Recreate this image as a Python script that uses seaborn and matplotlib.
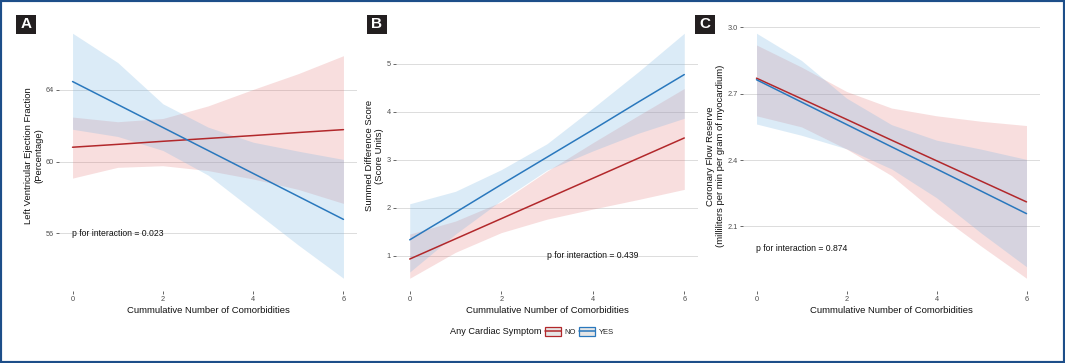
import pandas as pd
import matplotlib
matplotlib.use("Agg")
import matplotlib.pyplot as plt
import matplotlib.patches as mpatches
from matplotlib.lines import Line2D
import seaborn as sns

# ---- data (fitted values and 95% CI at each count) ----
comorb = [0, 1, 2, 3, 4, 5, 6]
groups = ["NO", "YES"]

# A: left ventricular ejection fraction
lvef_no = [60.80, 60.96, 61.13, 61.29, 61.45, 61.62, 61.78]
lvef_no_lo = [59.08, 59.68, 59.77, 59.50, 59.03, 58.45, 57.67]
lvef_no_hi = [62.48, 62.22, 62.40, 63.10, 64.02, 64.90, 65.90]
lvef_yes = [64.46, 63.18, 61.90, 60.62, 59.34, 58.06, 56.78]
lvef_yes_lo = [61.80, 61.40, 60.62, 59.25, 57.30, 55.35, 53.50]
lvef_yes_hi = [67.15, 65.52, 63.22, 61.92, 61.08, 60.58, 60.12]

# B: summed difference score
sds_no = [0.93, 1.35, 1.77, 2.19, 2.61, 3.03, 3.45]
sds_no_lo = [0.53, 1.07, 1.48, 1.76, 1.97, 2.17, 2.38]
sds_no_hi = [1.45, 1.72, 2.12, 2.76, 3.35, 3.92, 4.48]
sds_yes = [1.33, 1.90, 2.48, 3.05, 3.62, 4.20, 4.77]
sds_yes_lo = [0.66, 1.45, 2.15, 2.78, 3.18, 3.55, 3.86]
sds_yes_hi = [2.08, 2.34, 2.79, 3.33, 4.07, 4.83, 5.63]

# C: coronary flow reserve
cfr_no = [2.770, 2.677, 2.584, 2.490, 2.397, 2.304, 2.211]
cfr_no_lo = [2.600, 2.550, 2.450, 2.330, 2.160, 2.010, 1.866]
cfr_no_hi = [2.920, 2.820, 2.710, 2.635, 2.600, 2.575, 2.556]
cfr_yes = [2.763, 2.662, 2.561, 2.460, 2.360, 2.259, 2.158]
cfr_yes_lo = [2.563, 2.512, 2.451, 2.360, 2.230, 2.069, 1.918]
cfr_yes_hi = [2.973, 2.850, 2.680, 2.560, 2.490, 2.449, 2.403]

p_values = ["0.023", "0.439", "0.874"]
panel_letters = ["A", "B", "C"]

RED = "#b2282b"
BLUE = "#2a78bd"
FILL_RED = "#e06a6a"
FILL_BLUE = "#7fb8e3"

sns.set_theme(style="white")
plt.rcParams["font.family"] = ["Liberation Sans", "DejaVu Sans"]

fig = plt.figure(figsize=(10.65, 3.63), dpi=100)

W, H = 1065, 363
top, bottom = 21, 290.5
axes_px = [(59, 357), (396, 698), (743, 1040)]

panels = [
    dict(no=(lvef_no, lvef_no_lo, lvef_no_hi), yes=(lvef_yes, lvef_yes_lo, lvef_yes_hi),
         ylabel="Left Ventricular Ejection Fraction\n(Percentage)",
         yticks=[56, 60, 64], fmt="{:.0f}", ptxt=(1, 56)),
    dict(no=(sds_no, sds_no_lo, sds_no_hi), yes=(sds_yes, sds_yes_lo, sds_yes_hi),
         ylabel="Summed Difference Score\n(Score Units)",
         yticks=[1, 2, 3, 4, 5], fmt="{:.0f}", ptxt=(4, 1)),
    dict(no=(cfr_no, cfr_no_lo, cfr_no_hi), yes=(cfr_yes, cfr_yes_lo, cfr_yes_hi),
         ylabel="Coronary Flow Reserve\n(milliliters per min per gram of myocardium)",
         yticks=[2.1, 2.4, 2.7, 3.0], fmt="{:.1f}", ptxt=(1, 2.0)),
]

for i, (pan, (x0, x1)) in enumerate(zip(panels, axes_px)):
    ax = fig.add_axes([x0 / W, 1 - bottom / H, (x1 - x0) / W, (bottom - top) / H])

    df = pd.DataFrame({
        "comorb": comorb * 2,
        "fit": pan["no"][0] + pan["yes"][0],
        "group": ["NO"] * len(comorb) + ["YES"] * len(comorb),
    })

    ax.fill_between(comorb, pan["no"][1], pan["no"][2], color=FILL_RED, alpha=0.22, lw=0, zorder=1)
    ax.fill_between(comorb, pan["yes"][1], pan["yes"][2], color=FILL_BLUE, alpha=0.28, lw=0, zorder=1)
    sns.lineplot(data=df, x="comorb", y="fit", hue="group", palette={"NO": RED, "YES": BLUE},
                 linewidth=1.1, legend=False, ax=ax, zorder=3)

    lo = min(min(pan["no"][1]), min(pan["yes"][1]))
    hi = max(max(pan["no"][2]), max(pan["yes"][2]))
    pad = (hi - lo) * 0.05
    ax.set_ylim(lo - pad, hi + pad)
    ax.set_xlim(-0.3, 6.3)

    ax.set_xticks([0, 2, 4, 6])
    ax.set_yticks(pan["yticks"])
    ax.set_yticklabels([pan["fmt"].format(t) for t in pan["yticks"]])
    ax.tick_params(axis="both", labelsize=5.3, colors="#4d4d4d", length=2.4, width=0.6,
                   direction="out", pad=1.5, left=True, bottom=True)
    ax.yaxis.grid(True, color="#dcdcdc", linewidth=0.7, zorder=0)
    ax.xaxis.grid(False)
    ax.set_axisbelow(True)
    for s in ax.spines.values():
        s.set_visible(False)

    ax.set_xlabel("Cummulative Number of Comorbidities", fontsize=6.8, color="#111111", labelpad=2)
    ax.set_ylabel(pan["ylabel"], fontsize=6.8, color="#111111", labelpad=1.5, linespacing=1.15)

    ax.text(pan["ptxt"][0], pan["ptxt"][1], "p for interaction = " + p_values[i],
            ha="center", va="center", fontsize=6.2, color="#111111", zorder=4)

# panel letters in black squares
for letter, bx in zip(panel_letters, [16, 367, 695]):
    fig.patches.append(mpatches.Rectangle((bx / W, 1 - 34 / H), 20 / W, 19 / H,
                                          transform=fig.transFigure, facecolor="#231f20",
                                          edgecolor="none"))
    fig.text((bx + 10) / W, 1 - 24.5 / H, letter, color="white", fontsize=11,
             fontweight="bold", ha="center", va="center")

# legend
handles = [
    (mpatches.Patch(facecolor="#e6e6e6", edgecolor=RED, linewidth=0.9),
     Line2D([], [], color=RED, linewidth=1.1)),
    (mpatches.Patch(facecolor="#e6e6e6", edgecolor=BLUE, linewidth=0.9),
     Line2D([], [], color=BLUE, linewidth=1.1)),
]
fig.text(542 / W, 1 - 331.7 / H, "Any Cardiac Symptom", ha="right", va="center",
         fontsize=6.6, color="#111111")
fig.legend(handles=handles, labels=groups, loc="center left",
           bbox_to_anchor=(545 / W, 1 - 331.7 / H), ncol=2, frameon=False,
           fontsize=5.5, handlelength=2.1, handleheight=1.45, handletextpad=0.4,
           columnspacing=0.5, borderpad=0, borderaxespad=0)

# outer frame
fig.patches.append(mpatches.Rectangle((0, 0), 1, 1, transform=fig.transFigure,
                                      fill=False, edgecolor="#1d4e89", linewidth=3))

fig.savefig("out.png", dpi=100, facecolor="white")
